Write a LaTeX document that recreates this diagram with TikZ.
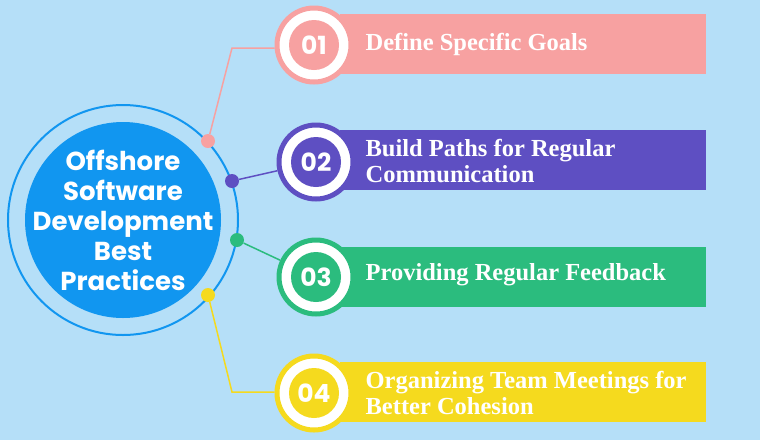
\documentclass[tikz,border=0pt]{standalone}
\usepackage{fontspec}
\setmainfont{Liberation Serif}
\newfontfamily\popfont{Poppins}
\definecolor{bgblue}{HTML}{B5DFF8}
\definecolor{midblue}{HTML}{1196F0}
\definecolor{stepA}{HTML}{F7A1A1}
\definecolor{stepB}{HTML}{5E4FC2}
\definecolor{stepC}{HTML}{2BBC7E}
\definecolor{stepD}{HTML}{F5DA1E}
\begin{document}
\begin{tikzpicture}[
    x=1pt, y=-1pt, semithick,
    dot/.style={circle, fill=#1, minimum size=14pt, inner sep=0pt},
    ring/.style={circle, draw=#1, line width=5pt, fill=white, minimum size=74pt, inner sep=0pt},
    num/.style={circle, fill=#1, minimum size=50pt, inner sep=0pt, text=white, font=\popfont\bfseries\fontsize{25}{25}\selectfont},
    bar/.style={fill=#1, anchor=north west, minimum height=60pt, inner sep=0pt},
    label/.style={anchor=west, text=white, font=\bfseries\fontsize{24.5}{26}\selectfont, align=left},
    wire/.style={draw=#1, line width=1.5pt}
  ]
  \fill[bgblue] (0,0) rectangle (760,440);
  \useasboundingbox (0,0) rectangle (760,440);
  % center
  \draw[midblue, line width=2pt] (123,220) circle (115);
  \node[circle, fill=midblue, minimum size=196pt, inner sep=0pt] (hub) at (123,220) {};
  \node[text=white, align=center, font=\popfont\bfseries\fontsize{26}{30}\selectfont]
    (hubtext) at (hub) {Offshore\\Software\\Development\\Best\\Practices};
  % bars
  \node[bar=stepA, minimum width=366pt] (barA) at (340,14) {};
  \node[bar=stepB, minimum width=366pt] (barB) at (340,130) {};
  \node[bar=stepC, minimum width=366pt] (barC) at (340,247) {};
  \node[bar=stepD, minimum width=366pt] (barD) at (340,362) {};
  % steps
  \node[ring=stepA] (ringA) at (314,45) {};
  \node[num=stepA] (numA) at (ringA) {01};
  \node[ring=stepB] (ringB) at (316,162) {};
  \node[num=stepB] (numB) at (ringB) {02};
  \node[ring=stepC] (ringC) at (316,277) {};
  \node[num=stepC] (numC) at (ringC) {03};
  \node[ring=stepD] (ringD) at (314,393) {};
  \node[num=stepD] (numD) at (ringD) {04};
  \node[label] at (362,44) {Define Specific Goals};
  \node[label] at (362,161) {Build Paths for Regular\\Communication};
  \node[label] at (362,275) {Providing Regular Feedback};
  \node[label] at (362,393) {Organizing Team Meetings for\\Better Cohesion};
  % dots and wires
  \node[dot=stepA] (dotA) at (208,141) {};
  \node[dot=stepB] (dotB) at (232,181) {};
  \node[dot=stepC] (dotC) at (237,240) {};
  \node[dot=stepD] (dotD) at (208,295) {};
  \coordinate (kneeA) at (232,48);
  \coordinate (kneeD) at (232,392);
  \draw[wire=stepA] (dotA) -- (kneeA) -- (ringA.west |- kneeA);
  \draw[wire=stepB] (dotB) -- (ringB);
  \draw[wire=stepC] (dotC) -- (ringC);
  \draw[wire=stepD] (dotD) -- (kneeD) -- (ringD.west |- kneeD);
\end{tikzpicture}
\end{document}
